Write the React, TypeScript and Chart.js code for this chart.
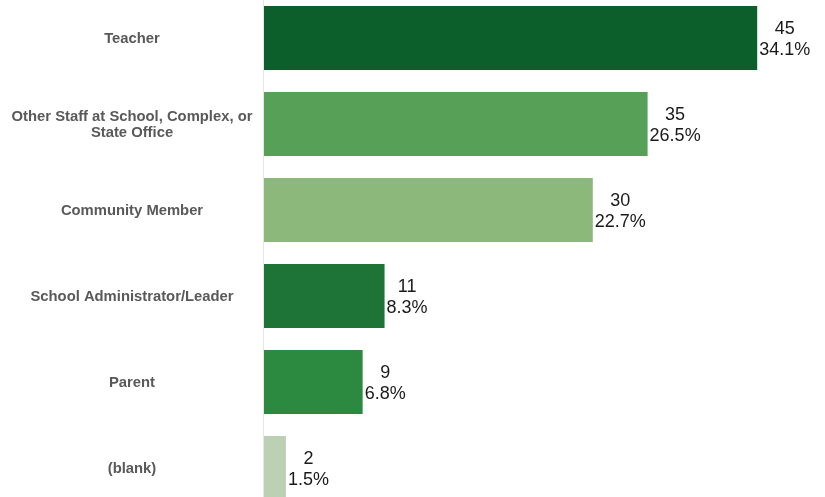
import React, { useEffect, useRef } from "react";
import { Chart, registerables } from "chart.js";

Chart.register(...registerables);

// Respondent roles and how many answered with each
const categories: (string | string[])[] = [
  "Teacher",
  ["Other Staff at School, Complex, or", "State Office"],
  "Community Member",
  "School Administrator/Leader",
  "Parent",
  "(blank)",
];
const counts: number[] = [45, 35, 30, 11, 9, 2];
const barColors: string[] = ["#0c5e2b", "#56a058", "#8cb87c", "#1e7436", "#2c8a40", "#bcd0b4"];

const total = counts.reduce((a, b) => a + b, 0);
const percents: string[] = counts.map((c) => ((c / total) * 100).toFixed(1) + "%");

const FONT = "'Liberation Sans', Arial, sans-serif";

// Draws the centered role names on the left, the axis rule and the count/percent labels
const labelPlugin = {
  id: "roleLabels",
  afterDatasetsDraw(chart: any) {
    const { ctx, chartArea } = chart;
    const yScale = chart.scales.y;
    const meta = chart.getDatasetMeta(0);
    ctx.save();

    // thin rule along the bar baseline
    ctx.strokeStyle = "#e6e6e6";
    ctx.lineWidth = 1;
    ctx.beginPath();
    ctx.moveTo(chartArea.left - 0.5, 0);
    ctx.lineTo(chartArea.left - 0.5, chart.height);
    ctx.stroke();

    // category names
    ctx.fillStyle = "#595959";
    ctx.font = `bold 14.8px ${FONT}`;
    ctx.textAlign = "center";
    ctx.textBaseline = "middle";
    categories.forEach((cat, i) => {
      const lines = Array.isArray(cat) ? cat : [cat];
      const cy = yScale.getPixelForValue(i);
      const lh = 16;
      lines.forEach((line, j) => {
        const y = cy + 1 + (j - (lines.length - 1) / 2) * lh;
        ctx.fillText(line, 132, y);
      });
    });

    // value labels: count over percentage
    ctx.fillStyle = "#1a1a1a";
    ctx.font = `18px ${FONT}`;
    meta.data.forEach((bar: any, i: number) => {
      const top = String(counts[i]);
      const bottom = percents[i];
      const w = Math.max(ctx.measureText(top).width, ctx.measureText(bottom).width);
      const cx = bar.x + 2 + w / 2;
      ctx.fillText(top, cx, bar.y - 9);
      ctx.fillText(bottom, cx, bar.y + 12);
    });
    ctx.restore();
  },
};

export default function App() {
  const canvasRef = useRef<HTMLCanvasElement | null>(null);

  useEffect(() => {
    if (!canvasRef.current) return;
    const chart = new Chart(canvasRef.current, {
      type: "bar",
      data: {
        labels: categories.map((c) => (Array.isArray(c) ? c.join(" ") : c)),
        datasets: [
          {
            data: counts,
            backgroundColor: barColors,
            borderWidth: 0,
            categoryPercentage: 1,
            barPercentage: 0.745,
          },
        ],
      },
      options: {
        indexAxis: "y",
        animation: false,
        responsive: true,
        maintainAspectRatio: false,
        layout: { padding: { left: 264, right: 13, top: 0, bottom: 0 } },
        plugins: {
          legend: { display: false },
          tooltip: { enabled: false },
          title: { display: false },
        },
        scales: {
          x: { display: false, min: 0, max: 50 },
          y: { display: false },
        },
      },
      plugins: [labelPlugin],
    });
    return () => chart.destroy();
  }, []);

  return (
    <div
      style={{
        position: "fixed",
        left: 0,
        top: -5,
        width: 825,
        height: 516,
        background: "#ffffff",
      }}
    >
      <canvas ref={canvasRef} />
    </div>
  );
}
